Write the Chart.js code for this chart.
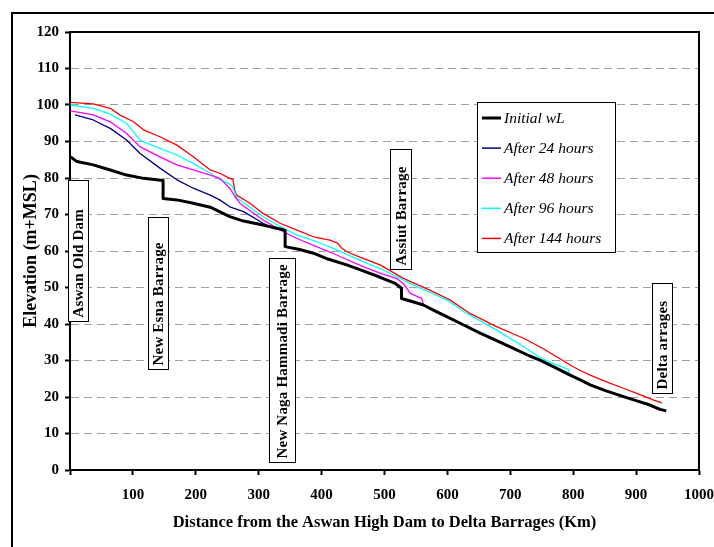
<!DOCTYPE html>
<html>
<head>
<meta charset="utf-8">
<script src="https://cdn.jsdelivr.net/npm/chart.js@4.4.0/dist/chart.umd.min.js"></script>
<style>
    html, body { margin: 0; padding: 0; background: #fff; }
    #chartContainer { width: 714px; height: 547px; }
</style>
</head>
<body>
<div id="chartContainer"><canvas id="chartCanvas" width="714" height="547"></canvas></div>
<script>
// Water levels along the Nile (km from Aswan High Dam, elevation m+MSL)
const initialDist = [1, 11, 37, 64, 90, 117, 148, 148, 170, 196, 223, 254, 276, 307, 339, 342, 342, 365, 387, 410, 440, 465, 493, 517, 527, 527, 545, 562, 580, 599, 625, 652, 680, 705, 730, 747, 770, 795, 812, 827, 850, 880, 900, 922, 938, 948];
const initialElev = [85.8, 84.5, 83.6, 82.2, 80.8, 79.9, 79.3, 74.4, 74.0, 73.1, 72.0, 69.4, 68.2, 67.1, 65.8, 65.6, 61.2, 60.4, 59.4, 57.8, 56.2, 54.6, 52.8, 51.1, 49.8, 47.0, 46.1, 45.2, 43.6, 42.0, 39.8, 37.5, 35.3, 33.3, 31.3, 30.1, 28.2, 26.0, 24.6, 23.3, 21.8, 20.1, 19.0, 17.8, 16.6, 16.2];

const dist24 = [8, 37, 64, 90, 111, 143, 170, 196, 223, 238, 254, 276, 307, 323, 339];
const elev24 = [97.3, 95.9, 93.6, 90.4, 86.8, 82.7, 79.5, 77.2, 75.3, 74.0, 72.1, 70.8, 67.6, 66.2, 65.8];

const dist48 = [1, 37, 64, 90, 111, 143, 170, 196, 223, 238, 254, 262, 270, 307, 339, 360, 392, 424, 466, 498, 519, 530, 541, 559, 563];
const elev48 = [98.4, 97.3, 95.4, 92.2, 88.6, 85.8, 83.6, 82.2, 80.8, 79.9, 77.2, 75.0, 73.1, 68.5, 65.3, 63.5, 61.2, 58.9, 55.7, 53.6, 52.5, 51.1, 48.4, 47.0, 44.7];

const dist96 = [1, 37, 64, 90, 111, 143, 170, 196, 223, 238, 254, 258, 265, 307, 334, 360, 392, 424, 466, 498, 530, 546, 599, 631, 678, 726, 747, 770, 792, 793, 805];
const elev96 = [100.0, 99.1, 97.5, 95.0, 90.4, 88.1, 86.3, 84.0, 81.3, 79.6, 78.3, 77.8, 74.6, 69.4, 66.7, 64.4, 62.6, 60.3, 57.1, 54.8, 52.1, 50.7, 46.6, 42.9, 38.4, 33.3, 30.8, 29.0, 27.6, 26.2, 25.1];

const dist144 = [1, 37, 64, 79, 101, 117, 143, 170, 196, 223, 238, 254, 259, 262, 265, 286, 307, 334, 360, 387, 413, 425, 432, 440, 466, 493, 530, 572, 604, 636, 678, 721, 752, 800, 812, 827, 855, 880, 905, 927, 941];
const elev144 = [100.7, 100.3, 99.1, 97.3, 95.4, 93.2, 91.3, 89.0, 85.8, 82.2, 81.3, 79.9, 79.6, 76.5, 75.3, 73.1, 70.3, 67.6, 65.8, 63.9, 63.0, 62.2, 60.8, 59.8, 58.0, 56.2, 52.5, 49.3, 46.6, 42.9, 39.3, 36.1, 33.3, 28.3, 27.2, 26.0, 24.0, 22.4, 20.7, 19.2, 18.4];

const seriesLabels = ['Initial wL', 'After 24 hours', 'After 48 hours', 'After 96 hours', 'After 144 hours'];
const structureNames = ['Aswan Old Dam', 'New Esna Barrage', 'New Naga Hammadi Barrage', 'Assiut Barrage', 'Delta arrages'];

const xTitle = 'Distance from the Aswan High Dam to Delta Barrages (Km)';
const yTitle = 'Elevation (m+MSL)';

const serif = '"Liberation Serif", "Times New Roman", serif';

function toPoints(xs, ys) {
    return xs.map((e, i) => ({x: e, y: ys[i]}));
}

// outer frame of the figure + top/right edge of the plot box
const framePlugin = {
    id: 'frame',
    beforeDraw(chart) {
        const ctx = chart.ctx;
        ctx.save();
        ctx.fillStyle = '#fff';
        ctx.fillRect(0, 0, chart.width, chart.height);
        ctx.strokeStyle = '#000';
        ctx.lineWidth = 2;
        ctx.beginPath();
        ctx.moveTo(12, chart.height);
        ctx.lineTo(12, 13);
        ctx.lineTo(chart.width, 13);
        ctx.stroke();
        ctx.restore();
    },
    afterDraw(chart) {
        const {ctx, chartArea: a} = chart;
        ctx.save();
        ctx.strokeStyle = '#000';
        ctx.lineWidth = 2;
        ctx.beginPath();
        ctx.moveTo(a.left - 1, a.top);
        ctx.lineTo(a.right, a.top);
        ctx.lineTo(a.right, a.bottom + 1);
        ctx.stroke();
        ctx.restore();
    }
};

// vertical labelled boxes for the dams / barrages
const structuresPlugin = {
    id: 'structures',
    afterDraw(chart, args, opts) {
        const {ctx, scales: {x, y}} = chart;
        ctx.save();
        ctx.font = 'bold 15px ' + serif;
        ctx.letterSpacing = '0.2px';
        opts.boxes.forEach((b, i) => {
            const cx = x.getPixelForValue(b.km);
            const top = Math.round(y.getPixelForValue(b.top)) + 0.5;
            const bottom = Math.round(y.getPixelForValue(b.bottom)) + 0.5;
            const left = Math.round(cx - b.w / 2) + 0.5;
            ctx.fillStyle = '#fff';
            ctx.fillRect(left, top, b.w, bottom - top);
            ctx.strokeStyle = '#000';
            ctx.lineWidth = 1;
            ctx.strokeRect(left, top, b.w, bottom - top);

            ctx.save();
            ctx.translate(left + b.w / 2 + 1, bottom - 4);
            ctx.rotate(-Math.PI / 2);
            ctx.fillStyle = '#000';
            ctx.textAlign = 'left';
            ctx.textBaseline = 'middle';
            ctx.fillText(structureNames[i], 0, 0);
            ctx.restore();
        });
        ctx.restore();
    }
};

// boxed legend inside the plot
const legendPlugin = {
    id: 'wlLegend',
    afterDraw(chart, args, opts) {
        const ctx = chart.ctx;
        ctx.save();
        ctx.fillStyle = '#fff';
        ctx.fillRect(opts.x, opts.y, opts.w, opts.h);
        ctx.strokeStyle = '#000';
        ctx.lineWidth = 1;
        ctx.strokeRect(opts.x + 0.5, opts.y + 0.5, opts.w, opts.h);
        ctx.font = 'italic 15.5px ' + serif;
        ctx.textBaseline = 'middle';
        chart.data.datasets.forEach((ds, i) => {
            const yy = opts.y + 16 + i * 30.1;
            ctx.strokeStyle = ds.borderColor;
            ctx.lineWidth = i === 0 ? 3 : 1.5;
            ctx.beginPath();
            ctx.moveTo(opts.x + 5, yy);
            ctx.lineTo(opts.x + 24, yy);
            ctx.stroke();
            ctx.fillStyle = '#000';
            ctx.fillText(ds.label, opts.x + 27, yy + 1);
        });
        ctx.restore();
    }
};

const tickFont = {family: serif, size: 15, weight: 'bold'};

new Chart(document.getElementById('chartCanvas').getContext('2d'), {
    type: 'line',
    data: {
        datasets: [
            {label: seriesLabels[0], data: toPoints(initialDist, initialElev), borderColor: '#000000', borderWidth: 3},
            {label: seriesLabels[1], data: toPoints(dist24, elev24), borderColor: '#000080', borderWidth: 1.3},
            {label: seriesLabels[2], data: toPoints(dist48, elev48), borderColor: '#FF00FF', borderWidth: 1.3},
            {label: seriesLabels[3], data: toPoints(dist96, elev96), borderColor: '#00FFFF', borderWidth: 1.3},
            {label: seriesLabels[4], data: toPoints(dist144, elev144), borderColor: '#FF0000', borderWidth: 1.3}
        ]
    },
    options: {
        responsive: false,
        animation: false,
        elements: {
            point: {radius: 0},
            line: {tension: 0, borderJoinStyle: 'round'}
        },
        layout: {padding: {top: 32, right: 15, left: 0, bottom: 0}},
        plugins: {
            legend: {display: false},
            tooltip: {enabled: false},
            structures: {
                boxes: [
                    {km: 12.7, bottom: 40.8, top: 79.5, w: 20},
                    {km: 140, bottom: 27.7, top: 69.3, w: 20},
                    {km: 337, bottom: 2.2, top: 58.1, w: 26},
                    {km: 525, bottom: 55.1, top: 87.9, w: 21},
                    {km: 941, bottom: 21.1, top: 51.2, w: 20}
                ]
            },
            wlLegend: {x: 477, y: 102, w: 138, h: 150}
        },
        scales: {
            x: {
                type: 'linear',
                min: 0,
                max: 1000,
                afterFit: s => {
                    s.height = 77;
                    s.paddingLeft = 0;
                    s.paddingRight = 0;
                },
                ticks: {
                    stepSize: 100,
                    autoSkip: false,
                    maxRotation: 0,
                    padding: 11,
                    color: '#000',
                    font: tickFont,
                    callback: v => v === 0 ? '' : v
                },
                grid: {drawOnChartArea: false, tickLength: 5, tickColor: '#000', tickWidth: 2},
                border: {color: '#000', width: 2},
                title: {
                    display: true,
                    text: xTitle,
                    color: '#000',
                    font: {family: serif, size: 16.5, weight: 'bold'},
                    padding: {top: 0, bottom: 14}
                }
            },
            y: {
                min: 0,
                max: 120,
                afterFit: s => { s.width = 70; },
                ticks: {stepSize: 10, padding: 6, color: '#000', font: tickFont},
                grid: {
                    color: c => (c.tick && (c.tick.value === 0 || c.tick.value === 120)) ? 'rgba(0,0,0,0)' : '#a0a0a0',
                    lineWidth: 1,
                    tickLength: 5,
                    tickColor: '#000',
                    tickWidth: 2,
                    tickBorderDash: []
                },
                border: {color: '#000', width: 2, dash: [8, 5]},
                title: {
                    display: true,
                    text: yTitle,
                    color: '#000',
                    font: {family: serif, size: 18, weight: 'bold'},
                    padding: {top: 21, bottom: 0}
                }
            }
        }
    },
    plugins: [framePlugin, structuresPlugin, legendPlugin]
});
</script>
</body>
</html>
